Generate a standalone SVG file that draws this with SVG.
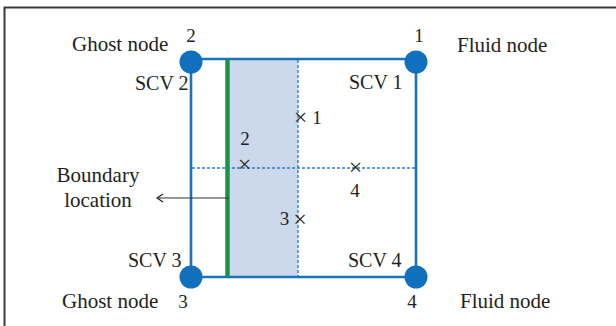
<svg xmlns="http://www.w3.org/2000/svg" width="616" height="326" viewBox="0 0 616 326" font-family="'Liberation Serif', 'Times New Roman', serif">
<defs>
<style>
text{font-family:'Liberation Serif','Times New Roman',serif;fill:#231f20;font-size:20px}
.big{font-size:21px}
.lbl{font-size:19px}
.mk{font-size:24px}
.edge{stroke:#1a73bb;stroke-width:2.6;fill:none}
.dot{stroke:#2a7fc6;stroke-width:1.4;stroke-dasharray:3 2;fill:none}
.node{fill:#1170be}
</style>
<marker id="open" markerWidth="10" markerHeight="10" refX="7" refY="5" orient="auto" markerUnits="userSpaceOnUse">
<path d="M1,1 L7,5 L1,9" fill="none" stroke="#231f20" stroke-width="1.2"/>
</marker>
</defs>
<rect width="616" height="326" fill="#fff"/>
<path d="M4.5,326 V7.5 H616" fill="none" stroke="#3a3a3a" stroke-width="2"/>
<g id="region">
<rect x="229.5" y="60" width="68.5" height="216" fill="#ccd8eb"/>
</g>
<g id="connectors">
<path class="edge" d="M191,59 H416 V277 H191 Z"/>
<line class="dot" x1="298" y1="60" x2="298" y2="276"/>
<line class="dot" x1="192" y1="168" x2="415" y2="168"/>
<line x1="227.5" y1="59.5" x2="227.5" y2="277" stroke="#169545" stroke-width="4.5"/>
<line x1="229" y1="198" x2="157" y2="198" stroke="#333" stroke-width="1.2" marker-end="url(#open)"/>
</g>
<g id="node2"><circle class="node" cx="191" cy="62" r="11.5"/><text x="191" y="42" text-anchor="middle" class="lbl">2</text><text x="72" y="51" class="big">Ghost node</text><text x="135" y="90">SCV 2</text></g>
<g id="node1"><circle class="node" cx="416" cy="62" r="11.5"/><text x="419" y="42" text-anchor="middle" class="lbl">1</text><text x="457" y="52" class="big">Fluid node</text><text x="349" y="89">SCV 1</text></g>
<g id="node3"><circle class="node" cx="191" cy="277" r="11.5"/><text x="183" y="308" text-anchor="middle" class="lbl">3</text><text x="62" y="308" class="big">Ghost node</text><text x="128" y="267">SCV 3</text></g>
<g id="node4"><circle class="node" cx="416" cy="277" r="11.5"/><text x="412" y="308" text-anchor="middle" class="lbl">4</text><text x="460" y="308" class="big">Fluid node</text><text x="348" y="267">SCV 4</text></g>
<g id="points">
<text x="300.5" y="125" text-anchor="middle" class="mk">×</text><text x="317" y="124" text-anchor="middle" class="lbl">1</text>
<text x="245" y="145" text-anchor="middle" class="lbl">2</text><text x="244.5" y="172" text-anchor="middle" class="mk">×</text>
<text x="284.5" y="225" text-anchor="middle" class="lbl">3</text><text x="300" y="227" text-anchor="middle" class="mk">×</text>
<text x="355.5" y="174.5" text-anchor="middle" class="mk">×</text><text x="355" y="197" text-anchor="middle" class="lbl">4</text>
</g>
<g id="boundary"><text x="98" y="182" text-anchor="middle" class="big">Boundary</text><text x="98" y="207" text-anchor="middle" class="big">location</text></g>
</svg>
